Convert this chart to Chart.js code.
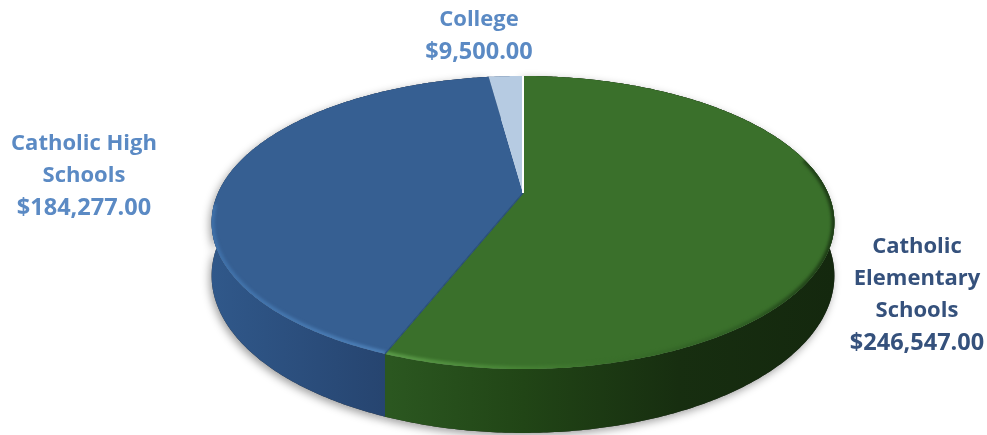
<!DOCTYPE html>
<html>
<head>
<meta charset="utf-8">
<title>Donations by school type</title>
<script src="https://cdn.jsdelivr.net/npm/chart.js@4"></script>
<style>
  html, body { margin: 0; padding: 0; background: #fff; }
  canvas { display: block; }
</style>
</head>
<body>
<canvas id="chartPie" width="987" height="435"></canvas>
<script>
const categories = ['Catholic Elementary Schools', 'Catholic High Schools', 'College'];
const values = [246547, 184277, 9500];

const faceColors = ['#3a702b', '#365f92', '#b6cbe2'];
const labelColors = ['#35517c', '#5b8ac4', '#5b8ac4'];
const labelBreaks = [['Catholic', 'Elementary', 'Schools'], ['Catholic High', 'Schools'], ['College']];
const labelAnchors = [[917, 247], [84, 144], [479, 20]];

// perspective of the tilted disc
const CX = 523, CY = 193, SX = 305, SY = 140.6, TILT = -0.2014, DEPTH = 51;
const LINE_H = 32;
// only the front of the disc has a bevel (canvas angles, clockwise from 3 o'clock)
const RIM_FROM = -0.25, RIM_TO = Math.PI - 0.08;

const money = v => '$' + v.toLocaleString('en-US', { minimumFractionDigits: 2, maximumFractionDigits: 2 });

function project(a, down) {
  const w = 1 + TILT * Math.sin(a);
  return {
    x: CX + SX * Math.cos(a) / w,
    y: CY + SY * Math.sin(a) / w + (down ? DEPTH / w : 0),
  };
}

function rimPoints(a0, a1, down) {
  const n = Math.max(2, Math.ceil(Math.abs(a1 - a0) / 0.01));
  const pts = [];
  for (let i = 0; i <= n; i++) pts.push(project(a0 + (a1 - a0) * i / n, down));
  return pts;
}

function facePath(ctx, el) {
  ctx.beginPath();
  ctx.moveTo(CX, CY);
  rimPoints(el.startAngle, el.endAngle).forEach(p => ctx.lineTo(p.x, p.y));
  ctx.closePath();
}

function wallPath(ctx, el) {
  const top = rimPoints(el.startAngle, el.endAngle);
  const bottom = rimPoints(el.endAngle, el.startAngle, true);
  ctx.beginPath();
  top.concat(bottom).forEach((p, i) => i ? ctx.lineTo(p.x, p.y) : ctx.moveTo(p.x, p.y));
  ctx.closePath();
}

function wallFill(ctx, i) {
  const g = ctx.createLinearGradient(212, 0, 835, 0);
  if (i === 0) {
    g.addColorStop(0.285, '#2b5720');
    g.addColorStop(0.5, '#214516');
    g.addColorStop(0.75, '#172e10');
    g.addColorStop(1, '#14280e');
  } else {
    g.addColorStop(0, '#30588a');
    g.addColorStop(0.285, '#26446f');
  }
  return g;
}

const disc3d = {
  id: 'disc3d',
  beforeDatasetsDraw(chart) {
    const ctx = chart.ctx;
    const arcs = chart.getDatasetMeta(0).data;

    // soft shadow under the disc
    ctx.save();
    ctx.shadowColor = 'rgba(0,0,0,0.38)';
    ctx.shadowBlur = 9;
    ctx.shadowOffsetX = -2;
    ctx.shadowOffsetY = 3;
    arcs.forEach((el, i) => {
      if (i > 1) return;
      wallPath(ctx, el);
      ctx.fillStyle = '#333';
      ctx.fill();
    });
    ctx.restore();

    arcs.forEach((el, i) => {
      wallPath(ctx, el);
      ctx.fillStyle = wallFill(ctx, i);
      ctx.fill();
    });

    arcs.forEach((el, i) => {
      facePath(ctx, el);
      ctx.fillStyle = faceColors[i];
      ctx.fill();
    });

    // bevel along the front rim
    arcs.forEach((el, i) => {
      if (i > 1) return;
      const from = Math.max(el.startAngle, RIM_FROM);
      const to = Math.min(el.endAngle, RIM_TO);
      ctx.save();
      facePath(ctx, el);
      ctx.clip();
      ctx.filter = 'blur(1.6px)';
      ctx.beginPath();
      rimPoints(from, to).forEach((p, k) => k ? ctx.lineTo(p.x, p.y) : ctx.moveTo(p.x, p.y));
      const g = ctx.createLinearGradient(212, 0, 835, 0);
      if (i === 0) {
        g.addColorStop(0.285, '#5a9a48');
        g.addColorStop(0.45, '#4a8838');
        g.addColorStop(0.62, '#3a702b');
        g.addColorStop(0.85, '#2f5e24');
        g.addColorStop(1, '#1c3a14');
      } else {
        g.addColorStop(0, '#3f70a8');
        g.addColorStop(0.285, '#4d80b8');
      }
      ctx.strokeStyle = g;
      ctx.lineWidth = 6;
      ctx.stroke();
      ctx.restore();
    });

    // seams between the slices
    const seam = (a, color, width) => {
      const p = project(a);
      ctx.beginPath();
      ctx.moveTo(CX, CY);
      ctx.lineTo(p.x, p.y);
      ctx.strokeStyle = color;
      ctx.lineWidth = width;
      ctx.stroke();
    };
    seam(arcs[0].endAngle, '#2a4f78', 1.2);
    seam(arcs[0].startAngle, '#ffffff', 2);

    return false;
  },
  afterDraw(chart) {
    const ctx = chart.ctx;
    ctx.save();
    ctx.textAlign = 'center';
    ctx.textBaseline = 'middle';
    labelBreaks.forEach((lines, i) => {
      const [x, y] = labelAnchors[i];
      ctx.fillStyle = labelColors[i];
      ctx.font = 'bold 22px "Open Sans"';
      lines.forEach((t, k) => ctx.fillText(t, x, y + k * LINE_H));
      ctx.font = 'bold 23.5px "Open Sans"';
      ctx.fillText(money(values[i]), x, y + lines.length * LINE_H);
    });
    ctx.restore();
  },
};

new Chart(document.getElementById('chartPie'), {
  type: 'pie',
  data: {
    labels: categories,
    datasets: [{ data: values, backgroundColor: faceColors, borderWidth: 0 }],
  },
  options: {
    responsive: false,
    animation: false,
    devicePixelRatio: 1,
    plugins: { legend: { display: false }, tooltip: { enabled: false } },
  },
  plugins: [disc3d],
});
</script>
</body>
</html>
